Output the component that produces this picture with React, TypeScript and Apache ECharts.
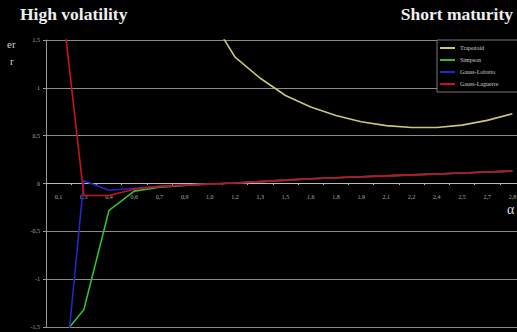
import React, { useEffect, useRef } from "react";
import * as echarts from "echarts";

// Category labels along the alpha axis (comma decimal separator)
const alphaLabels = ["0,1", "0,3", "0,4", "0,6", "0,7", "0,9", "1,0", "1,2", "1,3", "1,5", "1,6", "1,8", "1,9", "2,1", "2,2", "2,4", "2,5", "2,7", "2,8"];

// Error of each quadrature rule per alpha
const trapezoid = [40, 16, 8, 4.6, 3.1, 2.3, 1.75, 1.32, 1.1, 0.92, 0.8, 0.71, 0.645, 0.605, 0.585, 0.585, 0.61, 0.66, 0.73];
const simpson = [-1.64, -1.32, -0.28, -0.08, -0.04, -0.02, -0.005, 0.005, 0.02, 0.035, 0.05, 0.06, 0.07, 0.08, 0.09, 0.1, 0.11, 0.12, 0.13];
const gaussLobatto = [-2.7, 0.03, -0.07, -0.05, -0.03, -0.015, -0.005, 0.005, 0.02, 0.035, 0.05, 0.06, 0.07, 0.08, 0.09, 0.1, 0.11, 0.12, 0.13];
const gaussLaguerre = [2.2, -0.125, -0.125, -0.06, -0.03, -0.015, -0.005, 0.005, 0.02, 0.035, 0.05, 0.06, 0.07, 0.08, 0.09, 0.1, 0.11, 0.12, 0.13];

const serif = "'Liberation Serif', 'DejaVu Serif', serif";

export default function App() {
  const ref = useRef<HTMLDivElement>(null);

  useEffect(() => {
    document.body.style.margin = "0";
    document.body.style.background = "#000";
    if (!ref.current) return;
    const chart = echarts.init(ref.current, undefined, { renderer: "svg" });

    const line = (name: string, data: number[], color: string) => ({
      name,
      type: "line",
      data,
      symbol: "none",
      smooth: false,
      lineStyle: { color, width: 1.6 },
      itemStyle: { color },
    });

    chart.setOption({
      animation: false,
      backgroundColor: "#000",
      grid: { left: 46, top: 40, bottom: 5, right: -8, containLabel: false, outerBoundsMode: "none" },
      xAxis: {
        type: "category",
        data: alphaLabels,
        boundaryGap: true,
        position: "bottom",
        offset: -144,
        axisLine: { onZero: false, lineStyle: { color: "#bbb", width: 1 } },
        axisTick: { show: true, length: 2, lineStyle: { color: "#bbb" } },
        axisLabel: { color: "#aaa", fontSize: 6, fontFamily: serif, margin: 11, interval: 0 },
        splitLine: { show: false },
      },
      yAxis: {
        type: "value",
        min: -1.5,
        max: 1.5,
        interval: 0.5,
        axisLine: { show: true, lineStyle: { color: "#999", width: 1 } },
        axisTick: { show: true, length: 3, lineStyle: { color: "#999" } },
        axisLabel: {
          color: "#aaa",
          fontSize: 6,
          fontFamily: serif,
          margin: 6,
          formatter: (v: number) => String(v).replace(".", ","),
        },
        splitLine: { show: true, lineStyle: { color: "#8a8a8a", width: 1 } },
      },
      legend: {
        orient: "vertical",
        left: 437,
        top: 40,
        icon: "rect",
        itemWidth: 15,
        itemHeight: 2,
        itemGap: 4,
        padding: [4, 23, 4, 3],
        borderColor: "#777",
        borderWidth: 1,
        backgroundColor: "#000",
        textStyle: { color: "#ccc", fontSize: 6, fontFamily: serif, lineHeight: 8 },
        data: ["Trapezoid", "Simpson", "Gauss-Lobatto", "Gauss-Laguerre"],
      },
      series: [
        line("Trapezoid", trapezoid, "#c9c777"),
        line("Simpson", simpson, "#2fbf2f"),
        line("Gauss-Lobatto", gaussLobatto, "#2525c8"),
        line("Gauss-Laguerre", gaussLaguerre, "#c81414"),
      ],
      graphic: [
        {
          type: "text",
          left: 20,
          top: 5,
          style: { text: "High volatility", fill: "#eee", font: `bold 17.5px ${serif}` },
        },
        {
          type: "text",
          right: 4,
          top: 5,
          style: { text: "Short maturity", fill: "#eee", font: `bold 17.5px ${serif}` },
        },
        {
          type: "text",
          left: 7,
          top: 38,
          style: { text: "er", fill: "#ccc", font: `11px ${serif}` },
        },
        {
          type: "text",
          left: 10,
          top: 55,
          style: { text: "r", fill: "#ccc", font: `11px ${serif}` },
        },
        {
          type: "text",
          left: 507,
          top: 202,
          style: { text: "α", fill: "#ddd", font: `14px ${serif}` },
        },
      ],
    });

    return () => chart.dispose();
  }, []);

  return (
    <div
      ref={ref}
      style={{ position: "absolute", left: 0, top: 0, width: 517, height: 332, background: "#000" }}
    />
  );
}
